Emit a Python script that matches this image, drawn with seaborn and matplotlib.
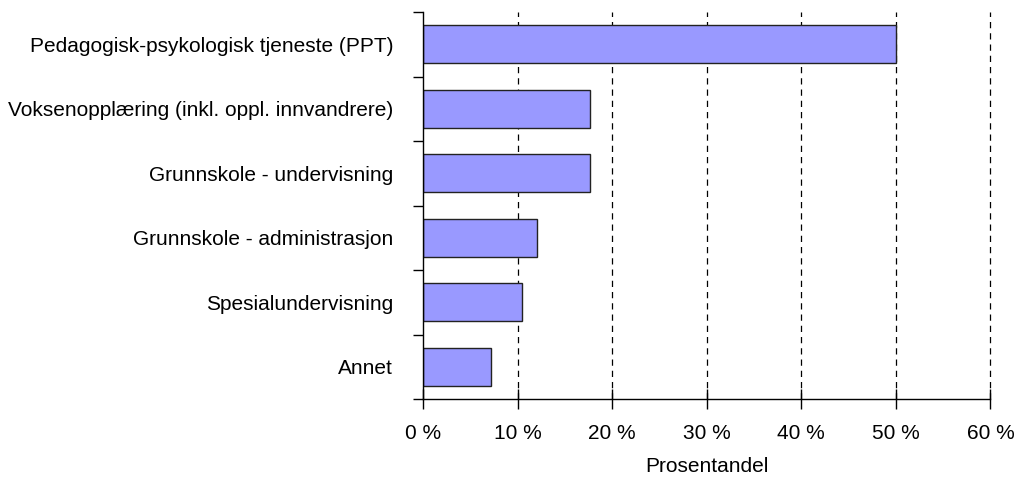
import matplotlib
matplotlib.use("Agg")
import matplotlib.pyplot as plt
import seaborn as sns
import pandas as pd
from matplotlib.ticker import FuncFormatter, FixedLocator

categories = [
    "Pedagogisk-psykologisk tjeneste (PPT)",
    "Voksenopplæring (inkl. oppl. innvandrere)",
    "Grunnskole - undervisning",
    "Grunnskole - administrasjon",
    "Spesialundervisning",
    "Annet",
]
values = [50.0, 17.7, 17.7, 12.0, 10.5, 7.2]
x_ticks = [0, 10, 20, 30, 40, 50, 60]
x_label = "Prosentandel"

sns.set_theme(style="white")
plt.rcParams["font.family"] = ["Liberation Sans", "DejaVu Sans"]

df = pd.DataFrame({"cat": categories, "val": values})

fig = plt.figure(figsize=(10.16, 4.79), dpi=100)
ax = fig.add_axes([423 / 1016, 1 - 399 / 479, (990.5 - 423) / 1016, (399 - 12) / 479])

sns.barplot(data=df, y="cat", x="val", orient="h", color="#9999FF",
            saturation=1, width=0.59, edgecolor="#222222", linewidth=1.0, ax=ax)

ax.set_xlim(0, 60)
ax.set_ylim(5.5, -0.5)
ax.set_xticks(x_ticks)
ax.xaxis.set_major_formatter(FuncFormatter(lambda v, p: f"{int(v)} %"))
for xv in x_ticks[1:]:
    ax.axvline(xv, color="#000000", linewidth=0.9, linestyle=(0, (5, 4)), zorder=0,
               clip_on=False)

# y ticks at category boundaries
ax.yaxis.set_major_locator(FixedLocator([i - 0.5 for i in range(len(categories) + 1)]))
ax.yaxis.set_minor_locator(FixedLocator(list(range(len(categories)))))
ax.set_yticklabels([])
ax.set_yticklabels(categories, minor=True)
ax.tick_params(axis="y", which="major", length=7, width=1, color="#000000", direction="out", left=True)
ax.tick_params(axis="y", which="minor", length=0, pad=21.5, labelsize=15, labelcolor="#000000")
ax.tick_params(axis="x", which="major", length=14, width=1, color="#000000", direction="inout",
               bottom=True, labelsize=15, labelcolor="#000000", pad=11)

for s in ["top", "right"]:
    ax.spines[s].set_visible(False)
for s in ["left", "bottom"]:
    ax.spines[s].set_visible(True)
    ax.spines[s].set_color("#000000")
    ax.spines[s].set_linewidth(1)

ax.set_ylabel("")
ax.set_xlabel(x_label, fontsize=15, color="#000000", labelpad=10)

fig.savefig("out.png", dpi=100, facecolor="white")
